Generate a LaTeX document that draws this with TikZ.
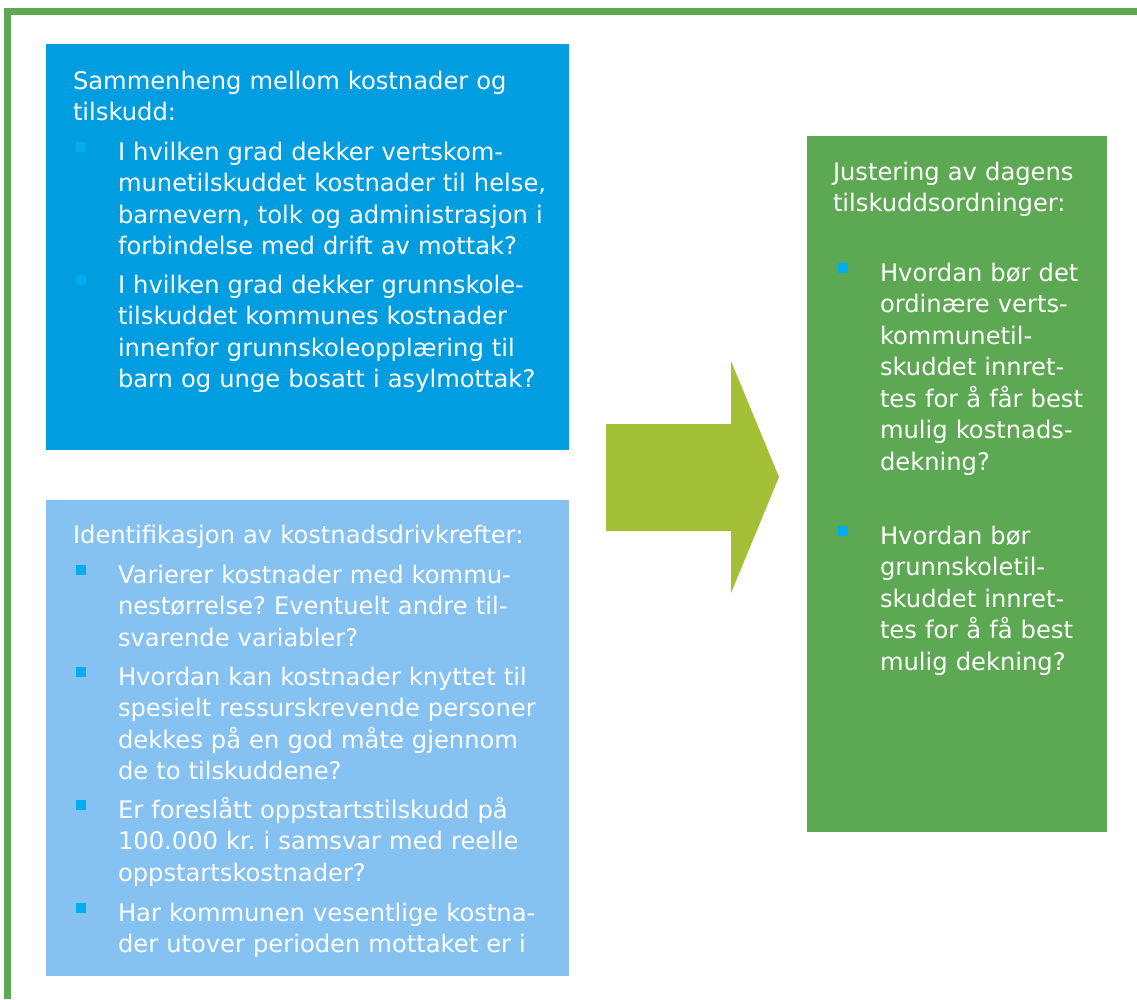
\documentclass[tikz,border=0pt]{standalone}
\usepackage{fontspec}
\setmainfont{DejaVu Sans}
\frenchspacing
\definecolor{boxdark}{RGB}{0,158,224}
\definecolor{boxlight}{RGB}{133,193,241}
\definecolor{boxgreen}{RGB}{93,168,82}
\definecolor{arrowgreen}{RGB}{163,192,55}
\definecolor{bulletcyan}{RGB}{0,173,239}
\definecolor{bulletpale}{RGB}{0,174,240}
\tikzset{
  panel/.style={anchor=north west, inner sep=0pt, outer sep=0pt, draw=none},
  txt/.style={anchor=north west, inner sep=0pt, outer sep=0pt, text=white, align=left,
    text width=520pt, font=\frenchspacing\fontsize{24.2}{31.5}\selectfont},
  sq/.style={anchor=north west, inner sep=0pt, outer sep=0pt, minimum size=10pt, fill=bulletcyan},
}
\newcommand{\bl}{\strut}
\begin{document}
\begin{tikzpicture}[x=1pt,y=-1pt]
\useasboundingbox (0,0) rectangle (1137,999);
\fill[white] (0,0) rectangle (1137,999);
% frame
\draw[boxgreen, line width=7pt] (7.5,999) -- (7.5,11.5) -- (1137,11.5);
% panels
\node[panel, fill=boxdark, minimum width=523pt, minimum height=406pt] (p1) at (46,44) {};
\node[panel, fill=boxlight, minimum width=523pt, minimum height=476pt] (p2) at (46,500) {};
\node[panel, fill=boxgreen, minimum width=300pt, minimum height=696pt] (p3) at (807,136) {};
% arrow
\coordinate (a1) at (606,424);
\coordinate (a2) at (731,424);
\coordinate (a3) at (731,361);
\coordinate (a4) at (779,477);
\coordinate (a5) at (731,593);
\coordinate (a6) at (731,531);
\coordinate (a7) at (606,531);
\fill[arrowgreen] (a1) -- (a2) -- (a3) -- (a4) -- (a5) -- (a6) -- (a7) -- cycle;
% box 1 text
\node[txt] (t1) at (73,{89-22.05}) {\bl Sammenheng mellom kostnader og\\tilskudd:};
\node[sq, fill=bulletpale] (s11) at (76,{160-18}) {};
\node[txt] (t11) at (118,{160-22.05}) {\bl I hvilken grad dekker vertskom-\\munetilskuddet kostnader til helse,\\barnevern, tolk og administrasjon i\\forbindelse med drift av mottak?};
\node[sq, fill=bulletpale] (s12) at (76,{293-18}) {};
\node[txt] (t12) at (118,{293-22.05}) {\bl I hvilken grad dekker grunnskole-\\tilskuddet kommunes kostnader\\innenfor grunnskoleopplæring til\\barn og unge bosatt i asylmottak?};
% box 2 text
\node[txt] (t2) at (73,{543-22.05}) {\bl Identifikasjon av kostnadsdrivkrefter:};
\node[sq] (s21) at (76,{583-18}) {};
\node[txt] (t21) at (118,{583-22.05}) {\bl Varierer kostnader med kommu-\\nestørrelse? Eventuelt andre til-\\svarende variabler?};
\node[sq] (s22) at (76,{685-18}) {};
\node[txt] (t22) at (118,{685-22.05}) {\bl Hvordan kan kostnader knyttet til\\spesielt ressurskrevende personer\\dekkes på en god måte gjennom\\de to tilskuddene?};
\node[sq] (s23) at (76,{818-18}) {};
\node[txt] (t23) at (118,{818-22.05}) {\bl Er foreslått oppstartstilskudd på\\100.000 kr. i samsvar med reelle\\oppstartskostnader?};
\node[sq] (s24) at (76,{921-18}) {};
\node[txt] (t24) at (118,{921-22.05}) {\bl Har kommunen vesentlige kostna-\\der utover perioden mottaket er i};
% box 3 text
\node[txt] (t3) at (833,{180-22.05}) {\bl Justering av dagens\\tilskuddsordninger:};
\node[sq] (s31) at (838,{281-18}) {};
\node[txt] (t31) at (880,{281-22.05}) {\bl Hvordan bør det\\ordinære verts-\\kommunetil-\\skuddet innret-\\tes for å får best\\mulig kostnads-\\dekning?};
\node[sq] (s32) at (838,{544-18}) {};
\node[txt] (t32) at (880,{544-22.05}) {\bl Hvordan bør\\grunnskoletil-\\skuddet innret-\\tes for å få best\\mulig dekning?};
\end{tikzpicture}
\end{document}
